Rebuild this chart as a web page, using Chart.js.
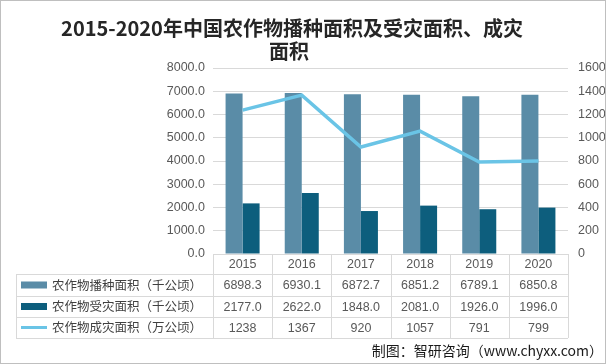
<!DOCTYPE html>
<html><head><meta charset="utf-8">
<script src="https://cdn.jsdelivr.net/npm/chart.js@4/dist/chart.umd.min.js"></script>
<style>html,body{margin:0;padding:0;background:#fff;}#wrap{width:606px;height:364px;position:relative;}</style>
</head><body><div id="wrap"><canvas id="c" width="606" height="364"></canvas></div>
<script>
const titleLines = ['2015-2020年中国农作物播种面积及受灾面积、成灾', '面积'];
const categories = ['2015', '2016', '2017', '2018', '2019', '2020'];
const sownArea = [6898.3, 6930.1, 6872.7, 6851.2, 6789.1, 6850.8];
const affectedArea = [2177.0, 2622.0, 1848.0, 2081.0, 1926.0, 1996.0];
const damagedArea = [1238, 1367, 920, 1057, 791, 799];
const seriesNames = ['农作物播种面积（千公顷）', '农作物受灾面积（千公顷）', '农作物成灾面积（万公顷）'];
const leftAxisMax = 8000, leftAxisStep = 1000;
const rightAxisMax = 1600, rightAxisStep = 200;
const sourceText = '制图：智研咨询（www.chyxx.com）';

const colors = {sown: '#5A8CA7', affected: '#0D5E7D', damaged: '#6AC4E6', grid: '#d9d9d9', text: '#404040', tick: '#595959'};
const cjk = '"Noto Sans CJK SC", "Noto Sans", sans-serif';
const num = '"Liberation Sans", Arial, sans-serif';

const decorPlugin = {
  id: 'decor',
  beforeDraw(chart) {
    const ctx = chart.ctx;
    ctx.save();
    ctx.fillStyle = '#fff';
    ctx.fillRect(0, 0, chart.width, chart.height);
    ctx.restore();
  },
  afterDraw(chart) {
    const ctx = chart.ctx, xs = chart.scales.x, area = chart.chartArea;
    const step = xs.getPixelForValue(1) - xs.getPixelForValue(0);
    const top = area.bottom;
    const rows = [top, top + 20, top + 42, top + 63, top + 84];
    const tableLeft = 16;
    ctx.save();
    // title
    ctx.fillStyle = '#262626';
    ctx.textAlign = 'center';
    ctx.textBaseline = 'middle';
    ctx.font = 'bold 20px ' + cjk;
    ctx.fillText(titleLines[0], 292, 28);
    ctx.fillText(titleLines[1], 289, 51);
    // table lines
    ctx.strokeStyle = colors.grid;
    ctx.lineWidth = 1;
    ctx.beginPath();
    for (let r = 1; r < rows.length; r++) {
      const y = Math.round(rows[r]) + 0.5;
      ctx.moveTo(tableLeft, y); ctx.lineTo(area.right, y);
    }
    ctx.moveTo(tableLeft + 0.5, rows[1]); ctx.lineTo(tableLeft + 0.5, rows[4]);
    for (let i = 0; i <= categories.length; i++) {
      const x = Math.round(xs.getPixelForValue(0) - step / 2 + i * step) + 0.5;
      ctx.moveTo(x, top); ctx.lineTo(x, rows[4]);
    }
    ctx.stroke();
    // years and values
    ctx.fillStyle = colors.tick;
    ctx.font = '12.5px ' + num;
    const series = [sownArea.map(v => v.toFixed(1)), affectedArea.map(v => v.toFixed(1)), damagedArea.map(v => String(v))];
    categories.forEach((c, i) => {
      const x = xs.getPixelForValue(i);
      ctx.fillText(c, x, (rows[0] + rows[1]) / 2 + 1);
      series.forEach((s, k) => ctx.fillText(s[i], x, (rows[k + 1] + rows[k + 2]) / 2 + 1));
    });
    // legend column
    ctx.textAlign = 'left';
    ctx.font = '12.5px ' + cjk;
    const ds = chart.data.datasets;
    seriesNames.forEach((name, k) => {
      const cy = (rows[k + 1] + rows[k + 2]) / 2;
      const d = ds[k];
      if (d.type === 'line') {
        ctx.fillStyle = d.borderColor;
        ctx.fillRect(21, cy - 1.5, 26, 3);
      } else {
        ctx.fillStyle = d.backgroundColor;
        ctx.fillRect(21, cy - 3.5, 26, 7);
      }
      ctx.fillStyle = colors.text;
      ctx.fillText(name, 52, cy);
    });
    // source
    ctx.textAlign = 'right';
    ctx.fillStyle = '#1a1a1a';
    ctx.font = '14px ' + cjk;
    ctx.fillText(sourceText, 603, 351);
    // frame
    ctx.strokeStyle = '#bfbfbf';
    ctx.strokeRect(0.5, 0.5, chart.width - 1, chart.height - 1);
    ctx.restore();
  }
};

new Chart(document.getElementById('c'), {
  data: {
    labels: categories,
    datasets: [
      {type: 'bar', label: seriesNames[0], data: sownArea, backgroundColor: colors.sown, yAxisID: 'y', order: 1, categoryPercentage: 0.575, barPercentage: 1.0},
      {type: 'bar', label: seriesNames[1], data: affectedArea, backgroundColor: colors.affected, yAxisID: 'y', order: 1, categoryPercentage: 0.575, barPercentage: 1.0},
      {type: 'line', label: seriesNames[2], data: damagedArea, borderColor: colors.damaged, backgroundColor: colors.damaged, borderWidth: 3.5, pointRadius: 0, tension: 0, yAxisID: 'y1', order: 0}
    ]
  },
  options: {
    responsive: false,
    animation: false,
    devicePixelRatio: 1,
    layout: {padding: {top: 68, bottom: 110, left: 0, right: 0}},
    plugins: {legend: {display: false}, title: {display: false}, tooltip: {enabled: false}},
    scales: {
      x: {type: 'category', display: false, offset: true},
      y: {
        position: 'left', min: 0, max: leftAxisMax,
        ticks: {stepSize: leftAxisStep, callback: v => Number(v).toFixed(1), color: colors.tick, font: {size: 12.5, family: num}, padding: 8},
        grid: {color: colors.grid, drawTicks: false},
        border: {display: false},
        afterFit(s) { s.width = 213; }
      },
      y1: {
        position: 'right', min: 0, max: rightAxisMax,
        ticks: {stepSize: rightAxisStep, callback: v => String(v), color: colors.tick, font: {size: 12.5, family: num}, padding: 10},
        grid: {display: false, drawTicks: false},
        border: {display: false},
        afterFit(s) { s.width = 38; }
      }
    }
  },
  plugins: [decorPlugin]
});
</script>
</body></html>
